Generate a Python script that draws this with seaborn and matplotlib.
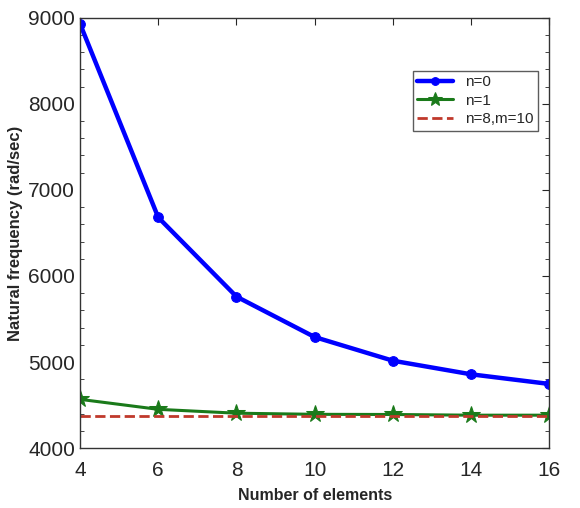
import pandas as pd
import seaborn as sns
import matplotlib.pyplot as plt
from matplotlib.ticker import MultipleLocator

# Data
elements = [4, 6, 8, 10, 12, 14, 16]
freq_n0 = [8930, 6680, 5760, 5290, 5015, 4857, 4745]
freq_n1 = [4566, 4450, 4405, 4392, 4390, 4382, 4382]
freq_n8_m10 = [4378, 4378, 4378, 4378, 4378, 4378, 4378]

df = pd.DataFrame({
    "elements": elements * 3,
    "freq": freq_n0 + freq_n1 + freq_n8_m10,
    "case": ["n=0"] * 7 + ["n=1"] * 7 + ["n=8,m=10"] * 7,
})

sns.set_style("white")
plt.rcParams["font.family"] = ["Liberation Sans", "DejaVu Sans"]

fig = plt.figure(figsize=(5.8, 5.08), dpi=100)
ax = fig.add_axes([0.138, 0.118, 0.809, 0.847])

sns.lineplot(data=df[df.case == "n=0"], x="elements", y="freq", ax=ax,
             color="#0000ff", linewidth=3.2, marker="o", markersize=7,
             markeredgecolor="#0000ff", label="n=0")
sns.lineplot(data=df[df.case == "n=1"], x="elements", y="freq", ax=ax,
             color="#1a7a1a", linewidth=2.2, marker="*", markersize=13,
             markeredgecolor="#1a7a1a", label="n=1")
sns.lineplot(data=df[df.case == "n=8,m=10"], x="elements", y="freq", ax=ax,
             color="#c0392b", linewidth=2, linestyle="--", label="n=8,m=10")

ax.set_xlim(4, 16)
ax.set_ylim(4000, 9000)
ax.set_xticks(elements)
ax.set_yticks([4000, 5000, 6000, 7000, 8000, 9000])
ax.yaxis.set_minor_locator(MultipleLocator(200))
ax.tick_params(axis="both", which="both", direction="in", labelsize=15,
               top=True, right=True)
ax.tick_params(axis="x", pad=9)
ax.tick_params(which="major", length=5)
ax.tick_params(which="minor", length=3, left=True, right=True)
for s in ax.spines.values():
    s.set_color("#333333")
    s.set_linewidth(1)

ax.set_xlabel("Number of elements", fontsize=11.5, fontweight="bold", labelpad=6)
ax.set_ylabel("Natural frequency (rad/sec)", fontsize=12, fontweight="bold")

leg = ax.legend(loc="upper right", bbox_to_anchor=(0.992, 0.895), fontsize=11,
                frameon=True, fancybox=False, edgecolor="#333333",
                handlelength=2.3, borderpad=0.3, labelspacing=0.3,
                markerscale=0.8)
leg.get_frame().set_linewidth(1)

fig.savefig("out.png", dpi=100)
